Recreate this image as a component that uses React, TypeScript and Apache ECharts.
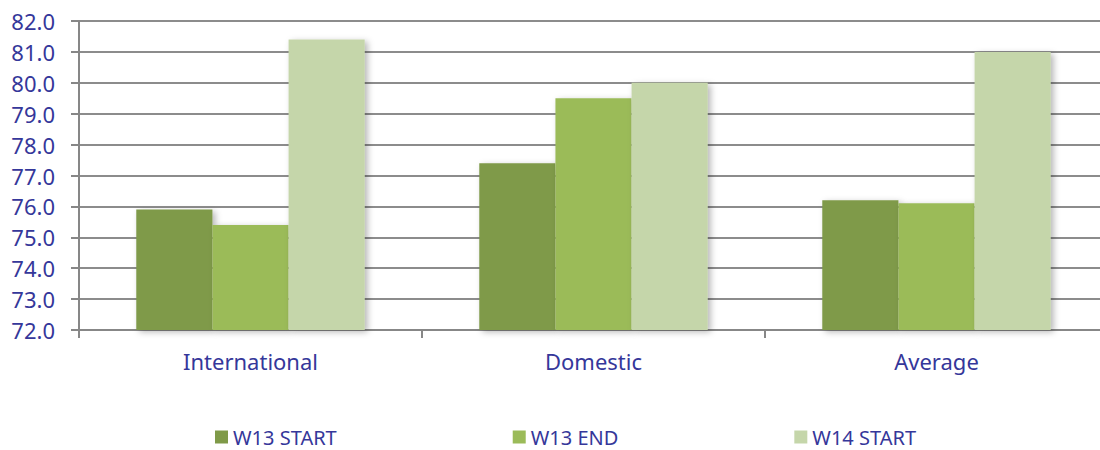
import React, { useEffect, useRef } from "react";
import * as echarts from "echarts";

const categories = ["International", "Domestic", "Average"];
const seriesNames = ["W13 START", "W13 END", "W14 START"];
const w13Start = [75.9, 77.4, 76.2];
const w13End = [75.4, 79.5, 76.1];
const w14Start = [81.4, 80.0, 81.0];
const seriesColors = ["#7F9A48", "#9BBB59", "#C5D6AA"];
const yMin = 72;
const yMax = 82;
const yInterval = 1;

const TEXT = "#35379A";
const FONT = "'Noto Sans', 'Open Sans', sans-serif";

export default function App() {
  const ref = useRef<HTMLDivElement>(null);
  useEffect(() => {
    if (!ref.current) return;
    const chart = echarts.init(ref.current, null, { renderer: "svg" });
    const values = [w13Start, w13End, w14Start];
    chart.setOption({
      animation: false,
      backgroundColor: "#ffffff",
      textStyle: { fontFamily: FONT },
      grid: {
        left: 79,
        right: -8,
        top: 21,
        bottom: 120,
        containLabel: false,
        outerBoundsMode: "none",
      },
      legend: {
        data: seriesNames,
        left: 215,
        top: 427,
        padding: 0,
        itemWidth: 13,
        itemHeight: 13,
        itemGap: 176,
        icon: "rect",
        textStyle: { color: TEXT, fontSize: 20, lineHeight: 20, fontFamily: FONT },
      },
      xAxis: {
        type: "category",
        data: categories,
        axisLine: { lineStyle: { color: "#878787", width: 2 } },
        axisTick: { show: true, length: 8, lineStyle: { color: "#878787", width: 2 } },
        axisLabel: { color: TEXT, fontSize: 22, fontFamily: FONT, margin: 20 },
      },
      yAxis: {
        type: "value",
        min: yMin,
        max: yMax,
        interval: yInterval,
        axisLine: { show: true, lineStyle: { color: "#878787", width: 2 } },
        axisTick: { show: true, length: 8, lineStyle: { color: "#878787", width: 2 } },
        splitLine: { show: true, lineStyle: { color: "#8C8C8C", width: 2 } },
        axisLabel: {
          color: TEXT,
          fontSize: 22,
          fontFamily: FONT,
          margin: 24,
          formatter: (v: number) => v.toFixed(1),
        },
      },
      series: seriesNames.map((name, i) => ({
        name,
        type: "bar",
        data: values[i],
        barWidth: "22.2%",
        barGap: "0%",
        itemStyle: {
          color: seriesColors[i],
          shadowColor: "rgba(0,0,0,0.28)",
          shadowBlur: 6,
          shadowOffsetX: 3,
          shadowOffsetY: 2,
        },
      })),
    });
    return () => chart.dispose();
  }, []);
  return (
    <div
      ref={ref}
      style={{ position: "fixed", left: 0, top: 0, width: 1100, height: 450 }}
    />
  );
}
